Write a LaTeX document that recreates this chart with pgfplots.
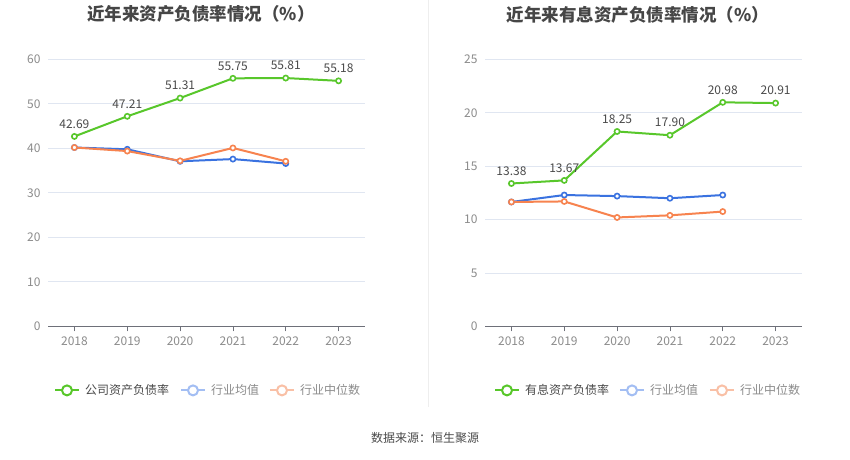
\documentclass[border=0pt]{standalone}
\usepackage{pgfplots}
\pgfplotsset{compat=1.18}
\usepackage{fontspec}
\setmainfont{Noto Sans CJK SC}
\definecolor{cgreen}{HTML}{58C72B}
\definecolor{cblue}{HTML}{3A72E0}
\definecolor{corange}{HTML}{F7834F}
\definecolor{lblue}{HTML}{A3BEF3}
\definecolor{lorange}{HTML}{F9C0A6}
\definecolor{gridc}{HTML}{E0E6F1}
\definecolor{axisc}{HTML}{6E7079}
\definecolor{tickc}{HTML}{8C8C8C}
\definecolor{titlec}{HTML}{464646}
\definecolor{labc}{HTML}{4A4A4A}
\definecolor{divc}{HTML}{EEEEEE}
\pgfplotsset{
  ecstyle/.style={
    scale only axis, width=317pt, height=267pt,
    xmin=-0.5, xmax=5.5, ymin=0,
    xtick={0,...,5}, xticklabels={2018,2019,2020,2021,2022,2023},
    axis x line*=bottom, axis y line*=left,
    y axis line style={draw=none},
    x axis line style={color=axisc, line width=0.8pt, -},
    ytick style={draw=none},
    xtick style={color=axisc, line width=0.8pt},
    xtick align=outside, major tick length=5pt,
    ymajorgrids, grid style={color=gridc, line width=0.8pt},
    tick label style={font=\fontsize{12}{14}\selectfont, color=tickc},
    yticklabel style={xshift=-4pt},
    xticklabel style={yshift=-2pt},
    /pgf/number format/assume math mode=true,
    clip=false,
  },
  ser/.style={color=#1, line width=2pt, mark=*, mark size=2.6pt,
    mark options={fill=white, draw=#1, line width=1.6pt}},
  lab/.style={nodes near coords={\pgfmathprintnumber[fixed,fixed zerofill,precision=2]{\pgfplotspointmeta}},
    point meta=y,
    every node near coord/.append style={font=\fontsize{12}{14}\selectfont, color=labc, yshift=4pt}},
}
\begin{document}
\begin{tikzpicture}[x=1pt,y=1pt]
\fill[white] (0,0) rectangle (850,459);
\draw[divc, line width=0.8pt] (428,459) -- (428,52);
% titles
\node[font=\fontsize{17.5}{20}\selectfont\bfseries, color=titlec] at (201,445) {近年来资产负债率情况（\%）};
\node[font=\fontsize{17.5}{20}\selectfont\bfseries, color=titlec] at (638,445) {近年来有息资产负债率情况（\%）};
% left axis
\begin{axis}[ecstyle, at={(48pt,133pt)}, anchor=south west, ymax=60, ytick={0,10,...,60}]
\addplot[ser=cblue] coordinates {(0,40.2) (1,39.8) (2,37.1) (3,37.6) (4,36.6)};
\addplot[ser=corange] coordinates {(0,40.2) (1,39.4) (2,37.2) (3,40.1) (4,37.1)};
\addplot[ser=cgreen, lab] coordinates {(0,42.69) (1,47.21) (2,51.31) (3,55.75) (4,55.81) (5,55.18)};
\end{axis}
% right axis
\begin{axis}[ecstyle, at={(485pt,133pt)}, anchor=south west, ymax=25, ytick={0,5,...,25}]
\addplot[ser=cblue] coordinates {(0,11.65) (1,12.3) (2,12.2) (3,12.0) (4,12.3)};
\addplot[ser=corange] coordinates {(0,11.65) (1,11.7) (2,10.2) (3,10.4) (4,10.75)};
\addplot[ser=cgreen, lab] coordinates {(0,13.38) (1,13.67) (2,18.25) (3,17.90) (4,20.98) (5,20.91)};
\end{axis}
% legends
\foreach \xa/\col/\txt/\tc in {55/cgreen/公司资产负债率/labc, 181/lblue/行业均值/tickc, 270/lorange/行业中位数/tickc,
  495/cgreen/有息资产负债率/labc, 620/lblue/行业均值/tickc, 710/lorange/行业中位数/tickc}{
  \draw[\col, line width=2pt] (\xa,69) -- ++(24,0);
  \draw[\col, line width=2pt, fill=white] (\xa+12,69) circle (5);
  \node[anchor=west, inner sep=0pt, font=\fontsize{12}{14}\selectfont, color=\tc] at (\xa+30,69) {\txt};
}
\node[font=\fontsize{12}{14}\selectfont, color=labc] at (425,21) {数据来源：恒生聚源};
\end{tikzpicture}
\end{document}
